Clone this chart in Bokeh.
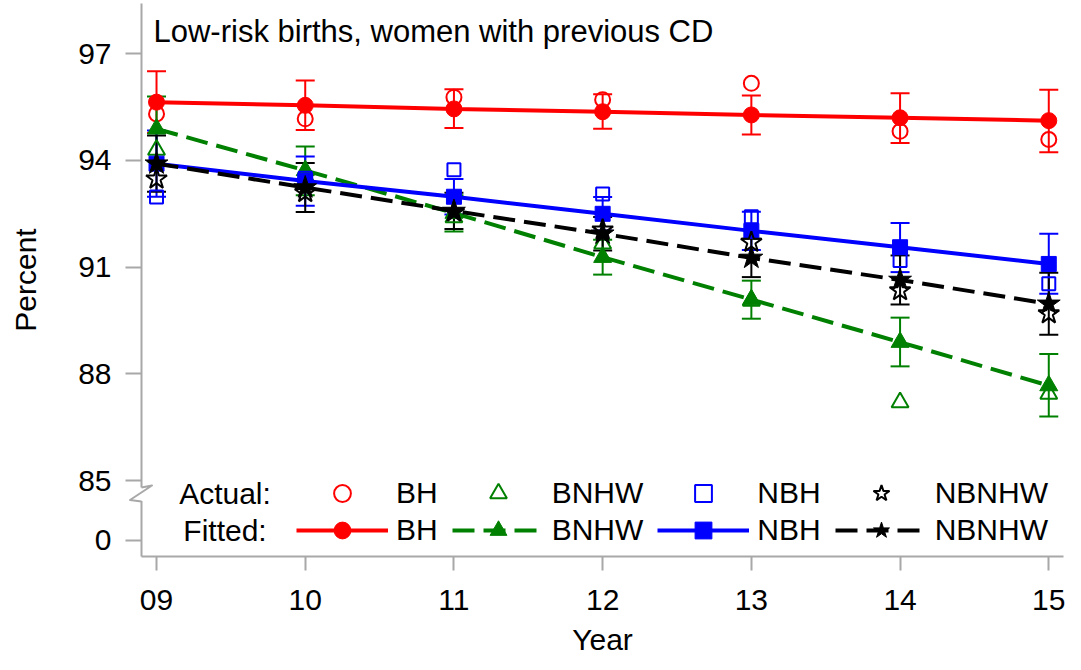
from bokeh.plotting import figure
from bokeh.models import (Range1d, FixedTicker, CustomJSTickFormatter, Whisker, TeeHead,
                          ColumnDataSource, Legend, LegendItem, Label)
from bokeh.embed import file_html
from bokeh.resources import INLINE

# ---------------- data ----------------
years = [9, 10, 11, 12, 13, 14, 15]
year_labels = ["09", "10", "11", "12", "13", "14", "15"]

bh_act = [95.31, 95.17, 95.78, 95.71, 96.17, 94.82, 94.59]
bh_fit = [95.64, 95.55, 95.45, 95.37, 95.28, 95.20, 95.12]
bh_lo = [94.77, 94.86, 94.91, 94.89, 94.73, 94.49, 94.23]
bh_hi = [96.51, 96.25, 96.00, 95.86, 95.83, 95.89, 95.99]

bnhw_act = [94.30, 93.55, 92.40, 91.66, 90.05, 87.20, 87.44]
bnhw_fit = [94.89, 93.72, 92.52, 91.28, 90.09, 88.89, 87.67]
bnhw_lo = [93.98, 93.02, 92.00, 90.79, 89.55, 88.21, 86.80]
bnhw_hi = [95.80, 94.39, 93.02, 91.77, 90.62, 89.58, 88.56]

nbh_act = [92.97, 93.50, 93.74, 93.06, 92.42, 91.19, 90.53]
nbh_fit = [93.91, 93.42, 92.98, 92.50, 92.02, 91.56, 91.09]
nbh_lo = [92.98, 92.73, 92.48, 92.03, 91.48, 90.86, 90.25]
nbh_hi = [94.84, 94.11, 93.48, 92.97, 92.56, 92.24, 91.94]

nbnhw_act = [93.48, 93.10, 92.55, 92.05, 91.70, 90.34, 89.69]
nbnhw_fit = [93.91, 93.24, 92.58, 91.94, 91.26, 90.64, 89.97]
nbnhw_lo = [93.12, 92.55, 92.07, 91.47, 90.72, 89.95, 89.10]
nbnhw_hi = [94.70, 93.93, 93.09, 92.41, 91.80, 91.33, 90.84]

y_ticks = [85, 88, 91, 94, 97]
ZERO_POS = 83.313  # where "0" sits below the axis break

series = [
    ("BH", "#ff0000", "circle", None, bh_act, bh_fit, bh_lo, bh_hi, 15, 16),
    ("BNHW", "#008000", "triangle", "22 9", bnhw_act, bnhw_fit, bnhw_lo, bnhw_hi, 17, 18),
    ("NBH", "#0000ff", "square", None, nbh_act, nbh_fit, nbh_lo, nbh_hi, 13, 15),
    ("NBNHW", "#000000", "star", "22 9", nbnhw_act, nbnhw_fit, nbnhw_lo, nbnhw_hi, 22, 24),
]

FONT = "Liberation Sans"
FS = "30px"
AXIS_GRAY = "#a8a8a8"

X0, X1 = 8.899, 15.099
Y0, Y1 = 82.863, 98.414
W, H = 1081, 670
BL, BR, BT, BB = 141, 18, 3, 114

p = figure(width=W, height=H, x_range=Range1d(X0, X1), y_range=Range1d(Y0, Y1),
           output_backend="svg", toolbar_location=None,
           min_border_left=BL, min_border_right=BR, min_border_top=BT, min_border_bottom=BB)
p.outline_line_color = None
p.xgrid.visible = False
p.ygrid.visible = False
p.background_fill_color = "white"
p.border_fill_color = "white"

for ax in (p.xaxis[0], p.yaxis[0]):
    ax.axis_line_color = AXIS_GRAY
    ax.axis_line_width = 2
    ax.major_tick_line_color = AXIS_GRAY
    ax.major_tick_line_width = 2
    ax.major_tick_in = 0
    ax.minor_tick_line_color = None
    ax.major_label_text_font = FONT
    ax.major_label_text_font_size = FS
    ax.major_label_text_color = "black"
    ax.axis_label_text_font = FONT
    ax.axis_label_text_font_size = FS
    ax.axis_label_text_font_style = "normal"
    ax.axis_label_text_color = "black"

p.xaxis.ticker = FixedTicker(ticks=years)
p.xaxis.formatter = CustomJSTickFormatter(code="return (tick < 10 ? '0' : '') + tick.toFixed(0);")
p.xaxis.major_tick_out = 14
p.xaxis.major_label_standoff = 19
p.xaxis.axis_label = "Year"
p.xaxis.axis_label_standoff = 10

p.yaxis.ticker = FixedTicker(ticks=[ZERO_POS] + y_ticks)
p.yaxis.formatter = CustomJSTickFormatter(code="return tick < 84 ? '0' : tick.toFixed(0);")
p.yaxis.major_tick_out = 16
p.yaxis.major_label_standoff = 14
p.yaxis.axis_label = "Percent"
p.yaxis.axis_label_standoff = 33

# ---------------- series ----------------
act_items, fit_items = [], []
for name, color, marker, dash, act, fit, lo, hi, s_open, s_fill in series:
    src = ColumnDataSource(dict(x=years, act=act, fit=fit, lo=lo, hi=hi))
    wh = Whisker(source=src, base="x", upper="hi", lower="lo", line_color=color, line_width=2,
                 upper_head=TeeHead(size=19, line_color=color, line_width=2),
                 lower_head=TeeHead(size=19, line_color=color, line_width=2))
    p.add_layout(wh)
    kw = dict(line_dash=dash) if dash else {}
    rl = p.line("x", "fit", source=src, line_color=color, line_width=4, **kw)
    rf = p.scatter("x", "fit", source=src, marker=marker, size=s_fill,
                   fill_color=color, line_color=color, line_width=1)
    ra = p.scatter("x", "act", source=src, marker=marker, size=s_open,
                   fill_color=None, line_color=color, line_width=2)
    act_items.append(LegendItem(label=name, renderers=[ra]))
    fit_items.append(LegendItem(label=name, renderers=[rl, rf]))

leg_common = dict(orientation="horizontal", glyph_width=92, glyph_height=42, label_standoff=8,
                  spacing=14, padding=0, margin=0, border_line_alpha=0, background_fill_alpha=0,
                  label_text_font=FONT, label_text_font_size=FS, label_text_color="black")
p.add_layout(Legend(items=act_items, location=(155, 42), **leg_common))
p.add_layout(Legend(items=fit_items, location=(155, 5), **leg_common))

lab_common = dict(x_units="screen", y_units="screen", text_font=FONT, text_font_size=FS,
                  text_color="black")
p.add_layout(Label(x=83.5, y=63, text="Actual:", text_align="center", text_baseline="middle", **lab_common))
p.add_layout(Label(x=83.5, y=26, text="Fitted:", text_align="center", text_baseline="middle", **lab_common))
p.add_layout(Label(x=12, y=525.5, text="Low-risk births, women with previous CD",
                   text_align="left", text_baseline="middle",
                   **{**lab_common, "text_font_size": "31px"}))

# ---------------- axis break marker (drawn above the axis, unclipped) ----------------
fw = W - BL - BR
fh = H - BT - BB
def dx(px):
    return X0 + (px - BL) * (X1 - X0) / fw
def dy(py):
    return Y1 - (py - BT) * (Y1 - Y0) / fh

p.quad(left=[dx(136)], right=[dx(146)], top=[dy(487)], bottom=[dy(500.5)],
       fill_color="white", line_color=None, level="overlay")
p.line(x=[dx(141), dx(151.5), dx(129.5), dx(141)], y=[dy(487), dy(485), dy(499.5), dy(501)],
       line_color=AXIS_GRAY, line_width=2, line_join="round", level="overlay")

open("out.html", "w").write(file_html(p, INLINE))
